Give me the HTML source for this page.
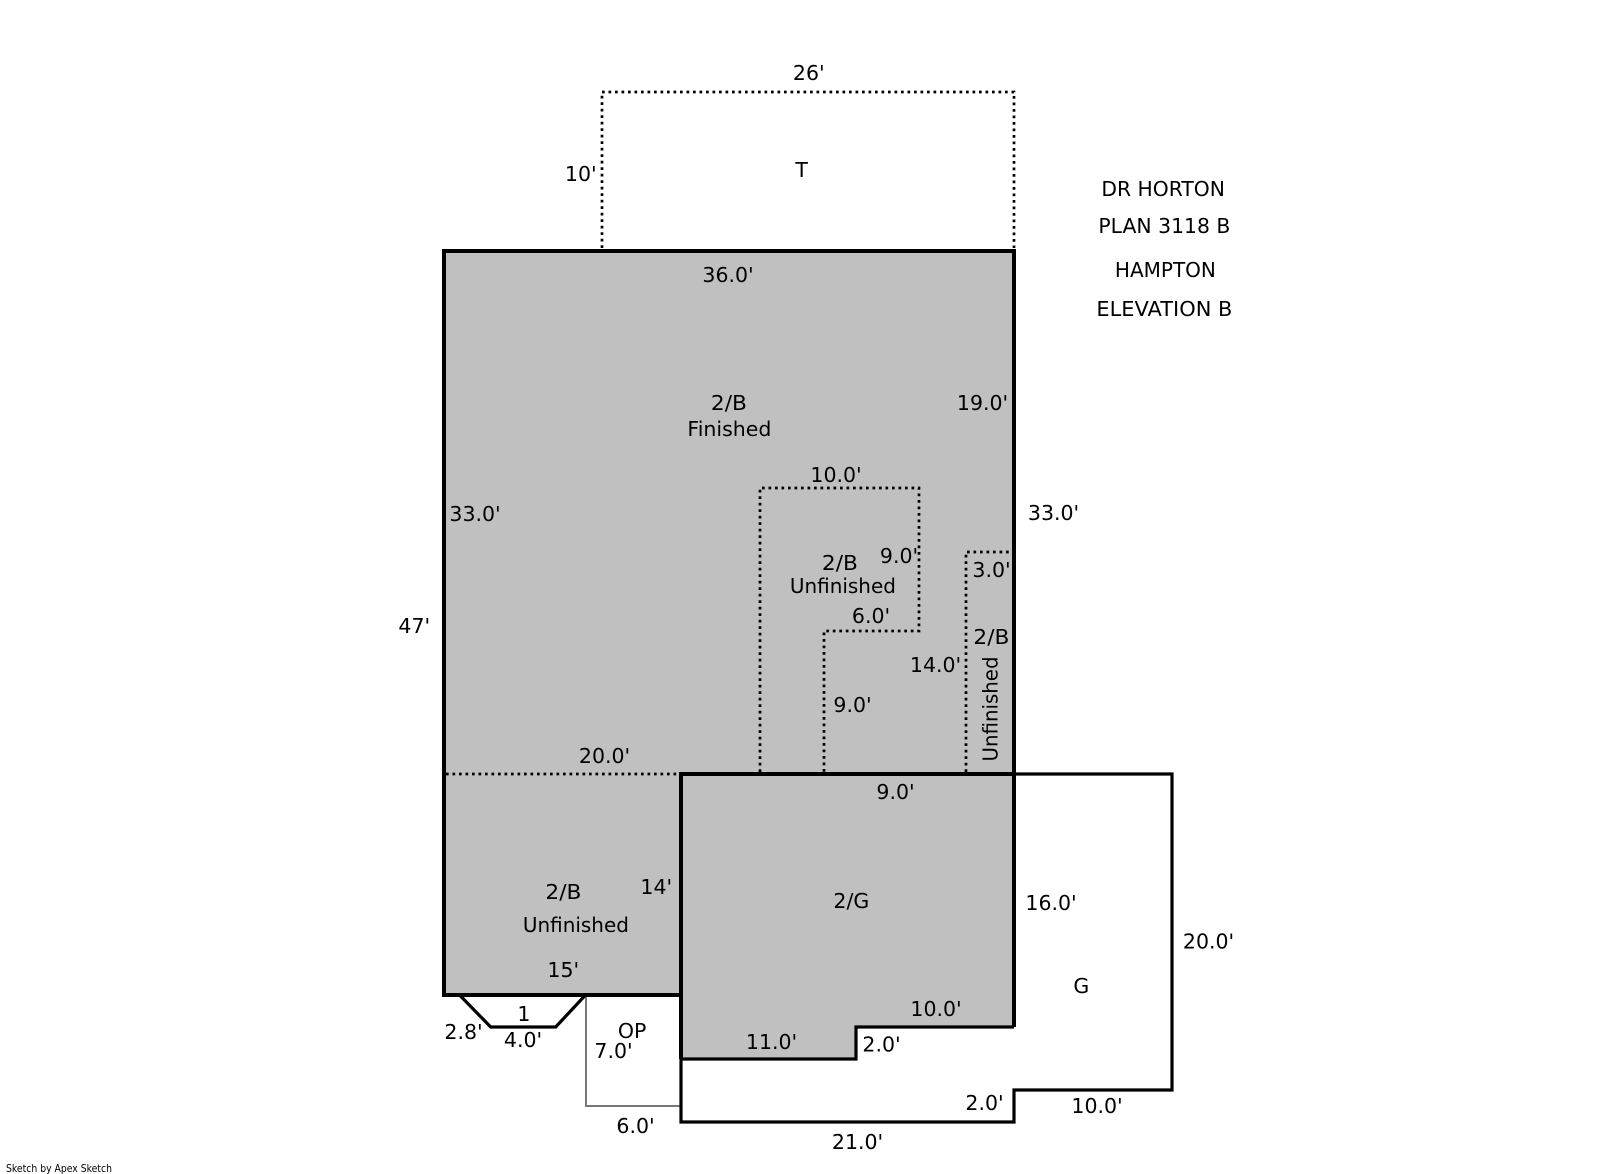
<!DOCTYPE html>
<html>
<head>
<meta charset="utf-8">
<style>
html,body{margin:0;padding:0;background:#fff;width:1601px;height:1174px;overflow:hidden}
svg{display:block}
text{font-family:"DejaVu Sans",sans-serif;font-size:20.5px;fill:#000}
.d{fill:none;stroke:#000;stroke-width:2.7;stroke-dasharray:2.7 3.8}
</style>
</head>
<body>
<svg width="1601" height="1174" viewBox="0 0 1601 1174" xmlns="http://www.w3.org/2000/svg">
<rect width="1601" height="1174" fill="#fff"/>
<polygon points="444,251 1014,251 1014,1027 856,1027 856,1059 681,1059 681,995 444,995" fill="#c0c0c0"/>

<!-- dotted -->
<path class="d" d="M602,248 V92 H1014 V248"/>
<path class="d" d="M760,772 V488 H919 V631 H824 V772"/>
<path class="d" d="M966,772 V552 H1012"/>
<path class="d" d="M446,774 H680"/>

<!-- OP -->
<path d="M586,995 V1106 H681" fill="none" stroke="#777" stroke-width="2"/>

<!-- G outer -->
<path d="M1014,774 H1172 V1090 H1014 V1122 H681 V1059" fill="none" stroke="#000" stroke-width="3.2"/>
<path d="M681,1059 H856 V1027 H1014" fill="none" stroke="#000" stroke-width="3.2"/>

<!-- main -->
<path d="M444,995 V251 H1014 V1027" fill="none" stroke="#000" stroke-width="4"/>
<path d="M442,995 H683" fill="none" stroke="#000" stroke-width="4"/>
<path d="M681,1059 V774 H1014" fill="none" stroke="#000" stroke-width="4"/>

<!-- trapezoid -->
<path d="M459.5,995 L490.7,1027 H555.7 L585.5,995" fill="none" stroke="#000" stroke-width="3.2"/>

<!-- labels -->
<g transform="translate(0.4,0)">
<text x="792.5" y="80">26'</text>
<text x="564.5" y="181">10'</text>
<text x="795" y="177">T</text>
<text x="702" y="282">36.0'</text>
<text x="710.5" y="410" textLength="36" lengthAdjust="spacingAndGlyphs">2/B</text>
<text x="687" y="436">Finished</text>
<text x="956.5" y="410">19.0'</text>
<text x="810" y="482">10.0'</text>
<text x="449" y="521">33.0'</text>
<text x="1027.5" y="520">33.0'</text>
<text x="879.5" y="563">9.0'</text>
<text x="821.5" y="570" textLength="36" lengthAdjust="spacingAndGlyphs">2/B</text>
<text x="789.5" y="593" textLength="106" lengthAdjust="spacingAndGlyphs">Unfinished</text>
<text x="851.5" y="623">6.0'</text>
<text x="972" y="577">3.0'</text>
<text x="973" y="644" textLength="36" lengthAdjust="spacingAndGlyphs">2/B</text>
<text x="909.5" y="672">14.0'</text>
<text x="833" y="712">9.0'</text>
<text transform="translate(997,761.5) rotate(-90)" x="0" y="0" textLength="105" lengthAdjust="spacingAndGlyphs">Unfinished</text>
<text x="876" y="799">9.0'</text>
<text x="578.5" y="763">20.0'</text>
<text x="640" y="894">14'</text>
<text x="545" y="899" textLength="36" lengthAdjust="spacingAndGlyphs">2/B</text>
<text x="522.5" y="932" textLength="106" lengthAdjust="spacingAndGlyphs">Unfinished</text>
<text x="833" y="908">2/G</text>
<text x="547" y="977">15'</text>
<text x="517" y="1021">1</text>
<text x="444" y="1039">2.8'</text>
<text x="503.5" y="1047">4.0'</text>
<text x="617.5" y="1038">OP</text>
<text x="594" y="1058">7.0'</text>
<text x="745.5" y="1049">11.0'</text>
<text x="862" y="1051.5">2.0'</text>
<text x="616" y="1133">6.0'</text>
<text x="831.5" y="1149">21.0'</text>
<text x="1073" y="993">G</text>
<text x="910" y="1016">10.0'</text>
<text x="965" y="1110">2.0'</text>
<text x="1071" y="1113">10.0'</text>
<text x="1182.5" y="948.5">20.0'</text>
<text x="1025" y="910">16.0'</text>
<text x="398" y="633">47'</text>

<text x="1101" y="196" textLength="123.5" lengthAdjust="spacingAndGlyphs">DR HORTON</text>
<text x="1098" y="233" textLength="132" lengthAdjust="spacingAndGlyphs">PLAN 3118 B</text>
<text x="1114.5" y="277" textLength="101" lengthAdjust="spacingAndGlyphs">HAMPTON</text>
<text x="1096" y="316" textLength="136" lengthAdjust="spacingAndGlyphs">ELEVATION B</text>
</g>

<text x="6" y="1172" textLength="106" lengthAdjust="spacingAndGlyphs" style='font-family:"DejaVu Sans",sans-serif;font-size:10.5px'>Sketch by Apex Sketch</text>
</svg>
</body>
</html>
